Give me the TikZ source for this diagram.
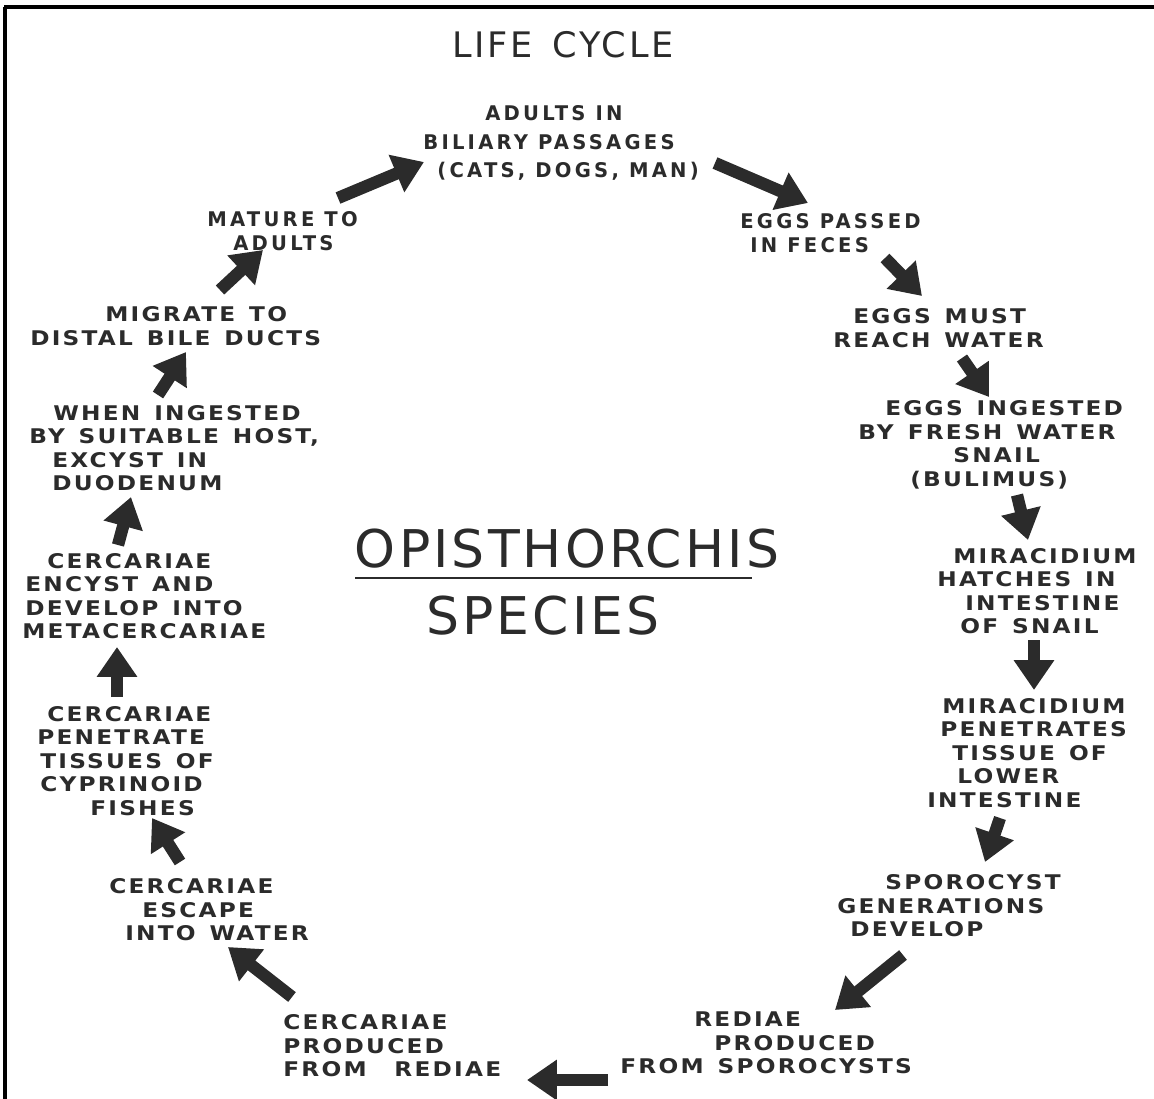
\documentclass[tikz,border=0pt]{standalone}
\usepackage{fontspec}
\setmainfont{DejaVu Sans}
\newfontfamily\lettering{DejaVu Sans}[FakeStretch=1.15,LetterSpace=11,WordSpace=1.35]
\newfontfamily\narrowlettering{DejaVu Sans}[FakeStretch=0.97,LetterSpace=16,WordSpace=1.0]
\newfontfamily\headfont{DejaVu Sans}[LetterSpace=8,WordSpace=1.4]
\newfontfamily\genusfont{DejaVu Sans}[LetterSpace=6]
\usepackage{xcolor}
\usepackage{tikz}
\usetikzlibrary{arrows.meta,positioning,calc}
\definecolor{ink}{HTML}{2B2B2B}
\newcommand\lpad[1]{\hspace*{#1}}

\begin{document}
\begin{tikzpicture}[x=0.02cm,y=-0.02cm,
  lbl/.style={anchor=west,align=left,inner sep=0pt,text=ink,
    font=\lettering\bfseries\fontsize{11.5}{13.4}\selectfont},
  toplbl/.style={lbl,font=\narrowlettering\bfseries\fontsize{11.5}{13.4}\selectfont},
  flow/.style={draw=ink,line width=7pt,-{Triangle[length=17pt,width=22pt]}}]
  \useasboundingbox (0,0) rectangle (1154,1099);
  % frame (top and left edge only)
  \draw[line width=2.2pt] (4,7) -- (1154,7);
  \draw[line width=2.2pt] (5,7) -- (5,1099);
  % headings
  \node[text=ink,inner sep=0pt,font=\headfont\fontsize{20}{22}\selectfont](title)at(563,45){LIFE CYCLE};
  \node[text=ink,inner sep=0pt,font=\genusfont\fontsize{29.6}{32}\selectfont](opist)at(567,549){OPISTHORCHIS};
  \node[text=ink,inner sep=0pt,font=\genusfont\fontsize{29.6}{32}\selectfont](species)at(543,616){SPECIES};
  \draw[ink,line width=1.7pt] (355,578) -- (752,578);
  % stages, clockwise from the top
  \node[toplbl,font=\narrowlettering\bfseries\fontsize{11.5}{16}\selectfont](adults)at(423,143){\lpad{1.24cm}ADULTS IN\\BILIARY PASSAGES\\\lpad{0.28cm}(CATS, DOGS, MAN)};
  \node[toplbl](eggspass)at(740,233){EGGS PASSED\\\lpad{0.2cm}IN FECES};
  \node[lbl](eggsmust)at(833,328){\lpad{0.4cm}EGGS MUST\\REACH WATER};
  \node[lbl](ingested)at(858,445){\lpad{0.54cm}EGGS INGESTED\\BY FRESH WATER\\\lpad{1.9cm}SNAIL\\\lpad{1.04cm}(BULIMUS)};
  \node[lbl](hatch)at(937,591){\lpad{0.32cm}MIRACIDIUM\\HATCHES IN\\\lpad{0.56cm}INTESTINE\\\lpad{0.46cm}OF SNAIL};
  \node[lbl](penetr)at(927,753){\lpad{0.3cm}MIRACIDIUM\\\lpad{0.26cm}PENETRATES\\\lpad{0.5cm}TISSUE OF\\\lpad{0.6cm}LOWER\\INTESTINE};
  \node[lbl](sporo)at(837,906){\lpad{0.96cm}SPOROCYST\\GENERATIONS\\\lpad{0.26cm}DEVELOP};
  \node[lbl](rediae)at(620,1043){\lpad{1.48cm}REDIAE\\\lpad{1.88cm}PRODUCED\\FROM SPOROCYSTS};
  \node[lbl](cercprod)at(283,1046){CERCARIAE\\PRODUCED\\FROM\ \ REDIAE};
  \node[lbl](escape)at(109,910){CERCARIAE\\\lpad{0.66cm}ESCAPE\\\lpad{0.32cm}INTO WATER};
  \node[lbl](fishes)at(37,761){\lpad{0.2cm}CERCARIAE\\PENETRATE\\\lpad{0.06cm}TISSUES OF\\\lpad{0.06cm}CYPRINOID\\\lpad{1.06cm}FISHES};
  \node[lbl](encyst)at(22,596){\lpad{0.5cm}CERCARIAE\\\lpad{0.06cm}ENCYST AND\\\lpad{0.06cm}DEVELOP INTO\\METACERCARIAE};
  \node[lbl](wheningest)at(29,448){\lpad{0.48cm}WHEN INGESTED\\BY SUITABLE HOST,\\\lpad{0.46cm}EXCYST IN\\\lpad{0.46cm}DUODENUM};
  \node[lbl](migrate)at(30,326){\lpad{1.5cm}MIGRATE TO\\DISTAL BILE DUCTS};
  \node[toplbl](mature)at(207,231){MATURE TO\\\lpad{0.52cm}ADULTS};
  % arrows of the cycle
  \draw[flow] ($(mature.west)+(131,-33)$) -- ($(adults.west)+(1,19)$);
  \draw[flow] ($(adults.west)+(292,20)$) -- ($(eggspass.west)+(68,-30)$);
  \draw[flow] ($(eggspass.west)+(145,25)$) -- ($(eggsmust.west)+(89,-32)$);
  \draw[flow] ($(eggsmust.west)+(129,30)$) -- ($(ingested.west)+(131,-48)$);
  \draw[flow] ($(ingested.west)+(159,50)$) -- ($(hatch.west)+(91,-51)$);
  \draw[flow] ($(hatch.west)+(97,49)$) -- ($(penetr.west)+(107,-63)$);
  \draw[flow] ($(penetr.west)+(73,65)$) -- ($(sporo.west)+(148,-44)$);
  \draw[flow] ($(sporo.west)+(66,49)$) -- ($(rediae.west)+(215,-33)$);
  \draw[flow] ($(rediae.west)+(-12,37)$) -- ($(cercprod.west)+(244,34)$);
  \draw[flow] ($(cercprod.west)+(9,-49)$) -- ($(escape.west)+(119,37)$);
  \draw[flow] ($(escape.west)+(71,-48)$) -- ($(fishes.west)+(115,57)$);
  \draw[flow] ($(fishes.west)+(80,-64)$) -- ($(encyst.west)+(95,51)$);
  \draw[flow] ($(encyst.west)+(96,-51)$) -- ($(wheningest.west)+(102,49)$);
  \draw[flow] ($(wheningest.west)+(129,-53)$) -- ($(migrate.west)+(156,26)$);
  \draw[flow] ($(migrate.west)+(190,-36)$) -- ($(mature.west)+(56,19)$);
\end{tikzpicture}
\end{document}
